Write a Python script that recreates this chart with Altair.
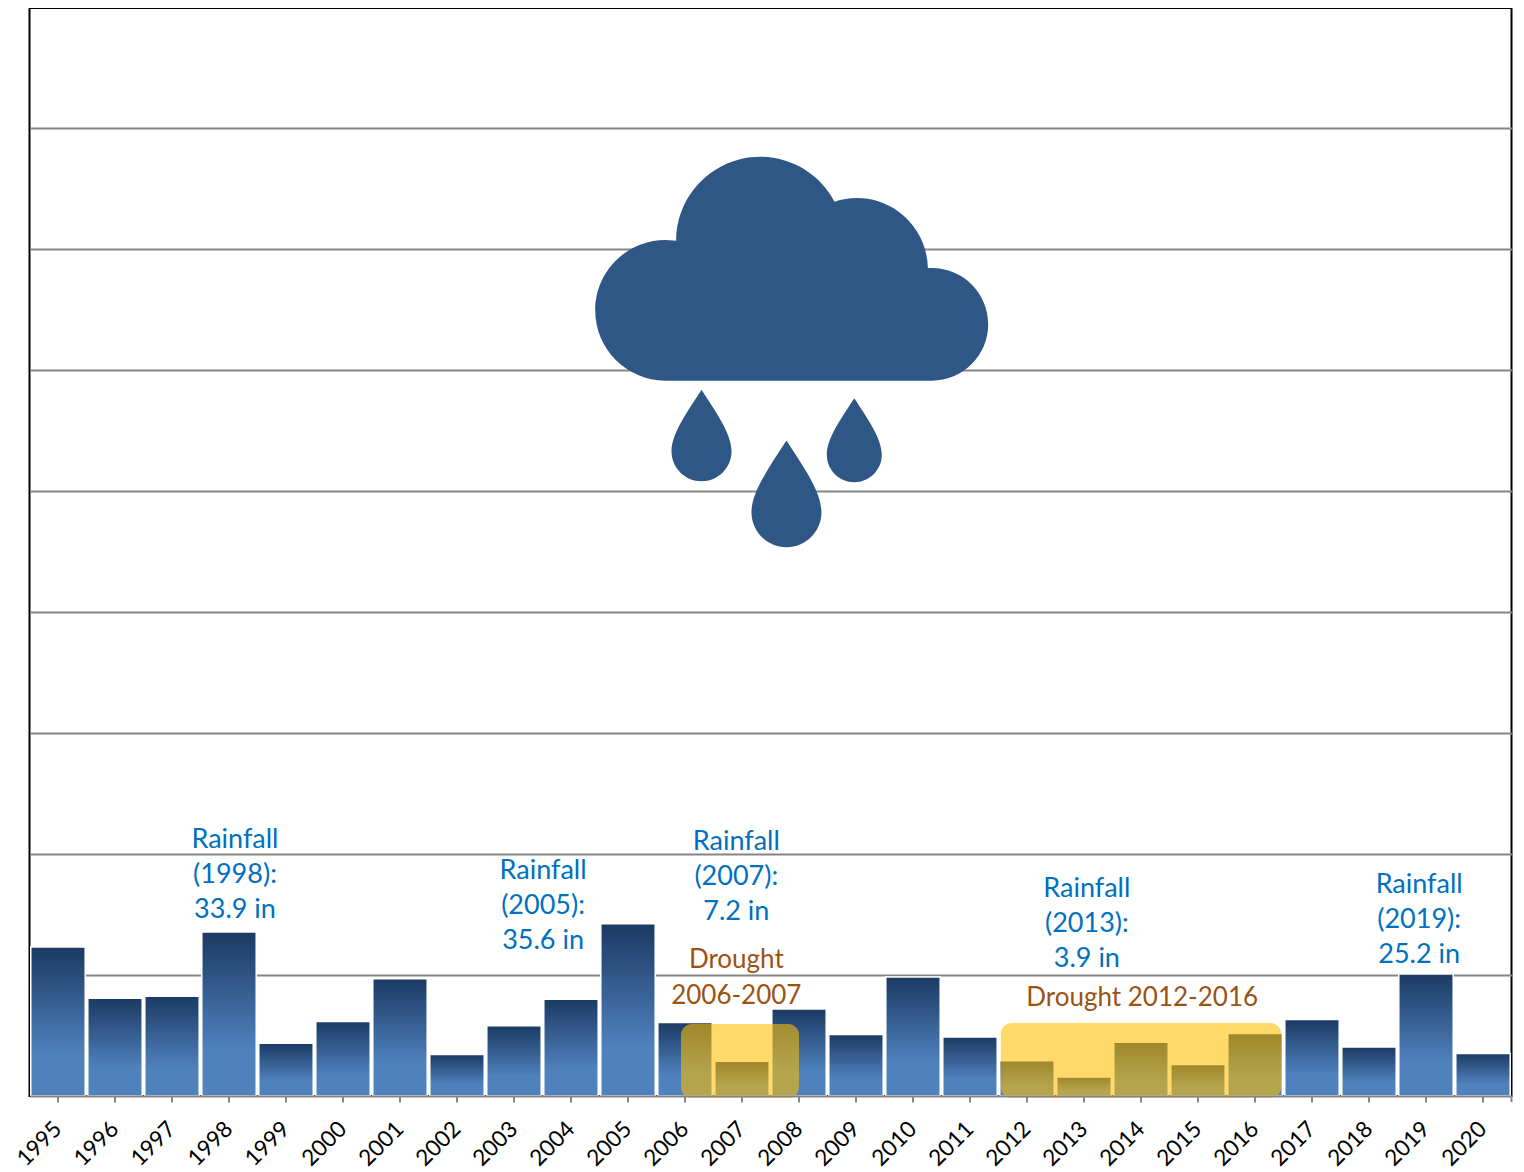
import altair as alt
import pandas as pd

years = list(range(1995, 2021))
rainfall = [30.8, 20.2, 20.6, 33.9, 10.9, 15.4, 24.2, 8.6, 14.5, 20.0, 35.6, 15.2, 7.2,
            18.0, 12.7, 24.6, 12.2, 7.3, 3.9, 11.1, 6.5, 12.9, 15.8, 10.1, 25.2, 8.8]

note_text = ["Rainfall\n(1998):\n33.9 in", "Rainfall\n(2005):\n35.6 in", "Rainfall\n(2007):\n7.2 in",
             "Rainfall\n(2013):\n3.9 in", "Rainfall\n(2019):\n25.2 in"]
note_x = [1998.105, 2003.51, 2006.90, 2013.05, 2018.88]
note_y = [52.9, 46.5, 52.5, 42.8, 43.6]

drought_text = ["Drought\n2006-2007", "Drought 2012-2016"]
drought_x = [2006.90, 2014.02]
drought_y = [28.1, 20.3]

band_x = [2005.93, 2011.54]
band_x2 = [2008.0, 2016.46]
band_top = [14.88, 15.08]
band_bottom = [-0.4, -0.4]

drop_x = [2006.29, 2008.97, 2007.78]
drop_y = [133.2, 132.5, 120.6]
drop_size = [3600, 3025, 4900]

Y_MAX = 224.79
X_MIN, X_MAX = 1994.5, 2020.5

CLOUD = ("M-126.6 111.7 A70.35 70.35 0 0 1 -126.6 -29 L-116 -28.3 A84 84 0 0 1 42.3 -67.3 "
         "A71 71 0 0 1 135.7 -1 L139.7 -1 A56.35 56.35 0 0 1 139.7 111.7 Z")
DROP = ("M0 -2.05 C0.45 -1.35 1 -0.6 1 0 C1 0.552 0.552 1 0 1 "
        "C-0.552 1 -1 0.552 -1 0 C-1 -0.6 -0.45 -1.35 0 -2.05 Z")

FONT = "Lato"
ICON = "#2f5786"

gradient = alt.LinearGradient(
    gradient="linear", x1=0, x2=0, y1=0, y2=1,
    stops=[alt.GradientStop(offset=0, color="#1b3a63"),
           alt.GradientStop(offset=0.72, color="#4f81bd"),
           alt.GradientStop(offset=1, color="#4f81bd")],
)

xq = alt.Scale(domain=[X_MIN, X_MAX], nice=False, zero=False)
yq = alt.Scale(domain=[0, Y_MAX], nice=False)


def X(field):
    return alt.X(field, type="quantitative", scale=xq, axis=None)


def Y(field):
    return alt.Y(field, type="quantitative", scale=yq, axis=None)


bars = alt.Chart(pd.DataFrame({"year": years, "rain": rainfall})).mark_bar(
    color=gradient, stroke="white", strokeWidth=1.5
).encode(
    x=alt.X("year:O", title=None,
            scale=alt.Scale(paddingInner=0.045, paddingOuter=0.0225),
            axis=alt.Axis(labelAngle=-45, labelFont=FONT, labelFontSize=22.5, labelColor="black",
                          labelAlign="right", labelBaseline="middle", labelPadding=23,
                          tickColor="#868686", tickWidth=2, tickSize=6,
                          domainColor="#868686", domainWidth=2, zindex=1)),
    y=alt.Y("rain:Q", title=None, scale=yq,
            axis=alt.Axis(values=[25, 50, 75, 100, 125, 150, 175, 200], labels=False, ticks=False,
                          domain=False, grid=True, gridColor="#868686", gridWidth=2, zindex=0)),
)

bands = alt.Chart(pd.DataFrame({"x": band_x, "x2": band_x2, "t": band_top, "b": band_bottom})).mark_rect(
    color="#ffc000", opacity=0.58, cornerRadius=11
).encode(x=X("x"), x2="x2", y=Y("t"), y2="b")

notes = alt.Chart(pd.DataFrame({"x": note_x, "y": note_y, "t": note_text})).mark_text(
    font=FONT, fontSize=27, color="#0070c0", lineBreak="\n", lineHeight=35
).encode(x=X("x"), y=Y("y"), text="t:N")

droughts = alt.Chart(pd.DataFrame({"x": drought_x, "y": drought_y, "t": drought_text})).mark_text(
    font=FONT, fontSize=26, color="#9c5212", lineBreak="\n", lineHeight=36
).encode(x=X("x"), y=Y("y"), text="t:N")

cloud = alt.Chart(pd.DataFrame({"x": [2007.88], "y": [170.87]})).mark_point(
    shape=CLOUD, filled=True, fill=ICON, stroke=None, opacity=1, size=4
).encode(x=X("x"), y=Y("y"))

drops = alt.Chart(pd.DataFrame({"x": drop_x, "y": drop_y, "s": drop_size})).mark_point(
    shape=DROP, filled=True, fill=ICON, stroke=None, opacity=1
).encode(x=X("x"), y=Y("y"), size=alt.Size("s:Q", scale=None, legend=None))

end_tick = alt.Chart(pd.DataFrame({"x": [X_MAX], "y": [0], "y2": [-1.25]})).mark_rule(
    color="#868686", strokeWidth=2
).encode(x=X("x"), y=Y("y"), y2="y2")

chart = alt.layer(bars, bands, end_tick, notes, droughts, cloud, drops).resolve_scale(
    x="independent", y="independent"
).properties(
    width=1482, height=1088,
    padding={"left": 21.5, "top": 0, "right": 2, "bottom": 75},
    autosize=alt.AutoSizeParams(type="none"),
).configure_view(stroke="black", strokeWidth=2)

chart.save("out.html", embed_options={"renderer": "svg", "actions": False})
